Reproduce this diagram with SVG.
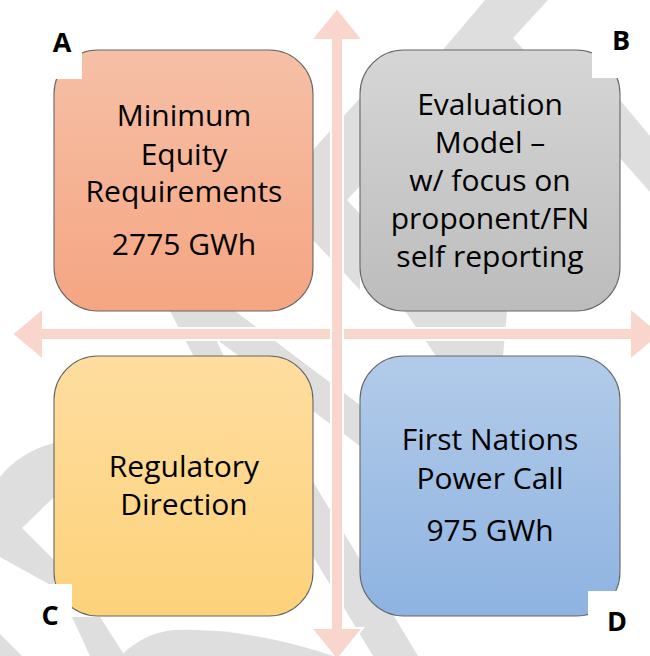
<svg xmlns="http://www.w3.org/2000/svg" width="650" height="656" viewBox="0 0 650 656">
  <style>
    .wm { fill: #dedede; }
    .axis { fill: #f8d6cc; stroke: #ffffff; stroke-width: 2; stroke-linejoin: miter; }
    .box { stroke: #666666; stroke-width: 1.1; }
    .tag { fill: #ffffff; }
    .label { font-family: "Open Sans", "Noto Sans", "Liberation Sans", sans-serif; font-size: 30px; fill: #000000; text-anchor: middle; }
    .corner { font-family: "Open Sans", "Liberation Sans", Arial, sans-serif; font-weight: bold; font-size: 27px; fill: #000000; text-anchor: middle; }
  </style>
  <defs>
    <linearGradient id="gA" x1="0" y1="0" x2="0" y2="1">
      <stop offset="0" stop-color="#f6c0a6"/>
      <stop offset="1" stop-color="#f5a582"/>
    </linearGradient>
    <linearGradient id="gB" x1="0" y1="0" x2="0" y2="1">
      <stop offset="0" stop-color="#d6d6d6"/>
      <stop offset="1" stop-color="#bcbcbc"/>
    </linearGradient>
    <linearGradient id="gC" x1="0" y1="0" x2="0" y2="1">
      <stop offset="0" stop-color="#fedd9f"/>
      <stop offset="1" stop-color="#fdd27a"/>
    </linearGradient>
    <linearGradient id="gD" x1="0" y1="0" x2="0" y2="1">
      <stop offset="0" stop-color="#b2cbe9"/>
      <stop offset="1" stop-color="#8eb3e1"/>
    </linearGradient>
  </defs>

  <rect width="650" height="656" fill="#ffffff"/>

  <!-- pale background watermark strokes -->
  <g id="watermark">
    <polygon class="wm" points="485,0 548,0 513,38 560,90 409,90"/>
    <polygon class="wm" points="313,150 360,98 360,186 347,200 360,214 360,290 313,240"/>
    <polygon class="wm" points="620,100 650,136 650,192 620,158"/>
    <polygon class="wm" points="170,311 235,311 360,405 360,446 216,339 224,357 194,357"/>
    <polygon class="wm" points="405,311 507,311 503,356 436,356"/>
    <path class="wm" d="M54,443 Q20,452 0,477 L0,557 L54,587 L54,560 L22,528 L54,497 Z"/>
    <polygon class="wm" points="0,634 0,656 22,656"/>
    <polygon class="wm" points="72,617 100,617 125,656 90,656"/>
    <path class="wm" d="M120,656 Q145,632 175,630 Q250,628 333,656 Z"/>
    <polygon class="wm" points="261,470 306,470 418,656 373,656"/>
  </g>

  <!-- crossing axis arrows -->
  <g id="connectors">
    <path class="axis" d="M12,334 L43,308 L43,328 L630,328 L630,308 L661,334 L630,360 L630,340 L43,340 L43,360 Z"/>
    <path class="axis" d="M337,8 L363,40 L343,40 L343,628 L363,628 L337,660 L311,628 L331,628 L331,40 L311,40 Z"/>
  </g>

  <g id="node-a">
    <rect class="box" x="54" y="50" width="259" height="261" rx="44" ry="44" fill="url(#gA)"/>
    <text class="label" x="184" y="126">Minimum</text>
    <text class="label" x="184" y="165">Equity</text>
    <text class="label" x="184" y="202">Requirements</text>
    <text class="label" x="184" y="255">2775 GWh</text>
    <rect class="tag" x="38" y="26" width="44" height="53"/>
    <text class="corner" x="62" y="52">A</text>
  </g>

  <g id="node-b">
    <rect class="box" x="360" y="50" width="260" height="261" rx="44" ry="44" fill="url(#gB)"/>
    <text class="label" x="490" y="115">Evaluation</text>
    <text class="label" x="490" y="153">Model –</text>
    <text class="label" x="490" y="191">w/ focus on</text>
    <text class="label" x="490" y="229">proponent/FN</text>
    <text class="label" x="490" y="267">self reporting</text>
    <rect class="tag" x="592" y="26" width="44" height="52"/>
    <text class="corner" x="621" y="50">B</text>
  </g>

  <g id="node-c">
    <rect class="box" x="54" y="356" width="259" height="260" rx="44" ry="44" fill="url(#gC)"/>
    <text class="label" x="184" y="477">Regulatory</text>
    <text class="label" x="184" y="515">Direction</text>
    <rect class="tag" x="28" y="584" width="44" height="52"/>
    <text class="corner" x="50" y="625">C</text>
  </g>

  <g id="node-d">
    <rect class="box" x="360" y="356" width="260" height="260" rx="44" ry="44" fill="url(#gD)"/>
    <text class="label" x="490" y="450">First Nations</text>
    <text class="label" x="490" y="489">Power Call</text>
    <text class="label" x="490" y="541">975 GWh</text>
    <rect class="tag" x="588" y="591" width="44" height="50"/>
    <text class="corner" x="617" y="631">D</text>
  </g>
</svg>
